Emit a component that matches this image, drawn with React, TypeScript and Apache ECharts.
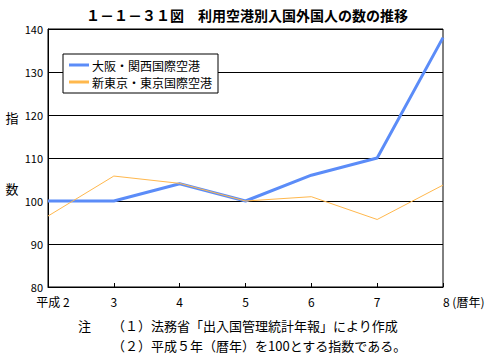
import React, { useEffect, useRef } from "react";
import * as echarts from "echarts";

const years = ["平成 2", "3", "4", "5", "6", "7", "8 (暦年)"];
const osakaKansai = [100, 100, 104, 100, 106, 110, 138];
const shinTokyo = [96.5, 105.8, 104.1, 100, 101, 95.7, 103.7];
const seriesNames = ["大阪・関西国際空港", "新東京・東京国際空港"];
const yTicks = { min: 80, max: 140, interval: 10 };
const titleText = "１－１－３１図　利用空港別入国外国人の数の推移";
const noteMark = "注";
const note1 = "（１）法務省「出入国管理統計年報」により作成";
const note2 = "（２）平成５年（暦年）を100とする指数である。";

const FONT = '"Noto Sans CJK JP", "Noto Sans", sans-serif';

export default function App() {
  const ref = useRef<HTMLDivElement>(null);
  useEffect(() => {
    document.body.style.margin = "0";
    if (!ref.current) return;
    const chart = echarts.init(ref.current, undefined, { renderer: "svg" });
    const last = years.length - 1;
    chart.setOption({
      animation: false,
      backgroundColor: "#fff",
      textStyle: { fontFamily: FONT, color: "#000" },
      title: {
        text: titleText,
        left: "center",
        top: 8,
        padding: 0,
        textStyle: { fontFamily: FONT, fontSize: 14, fontWeight: "bold", color: "#000" },
      },
      legend: {
        orient: "vertical",
        left: 63,
        top: 54,
        padding: [5, 6, 5, 6],
        itemGap: 5,
        itemWidth: 20,
        itemHeight: 3,
        icon: "rect",
        backgroundColor: "#fff",
        borderColor: "#000",
        borderWidth: 1,
        textStyle: { fontFamily: FONT, fontSize: 12, lineHeight: 12, color: "#000", padding: [0, 0, 0, -2] },
        data: seriesNames,
      },
      grid: {
        left: 48,
        right: 51,
        top: 29,
        bottom: 68,
        show: true,
        borderColor: "#000",
        borderWidth: 1,
        backgroundColor: "transparent",
      },
      xAxis: {
        type: "category",
        boundaryGap: false,
        data: years.map((v, i) =>
          i === last ? { value: v, textStyle: { align: "left" } } : v
        ),
        axisLine: { lineStyle: { color: "#000", width: 1 } },
        axisTick: { inside: true, length: 4, lineStyle: { color: "#000" } },
        axisLabel: {
          interval: 0,
          hideOverlap: false,
          fontFamily: FONT,
          fontSize: 12,
          color: "#000",
          margin: 8,
          formatter: (v: string, i: number) => (i === 0 ? "{p|}" + v : v),
          rich: { p: { width: 10 } },
        },
        splitLine: { show: false },
      },
      yAxis: {
        type: "value",
        min: yTicks.min,
        max: yTicks.max,
        interval: yTicks.interval,
        axisLine: { show: true, lineStyle: { color: "#000" } },
        axisTick: { show: false },
        axisLabel: { fontFamily: FONT, fontSize: 11, color: "#000", margin: 5 },
        splitLine: { show: true, lineStyle: { color: "#000", width: 1 } },
      },
      series: [
        {
          name: seriesNames[0],
          type: "line",
          data: osakaKansai,
          symbol: "none",
          lineStyle: { color: "#5B8CF8", width: 3 },
          itemStyle: { color: "#5B8CF8" },
          z: 3,
        },
        {
          name: seriesNames[1],
          type: "line",
          data: shinTokyo,
          symbol: "none",
          lineStyle: { color: "#FFB84D", width: 1 },
          itemStyle: { color: "#FFB84D" },
          z: 4,
        },
      ],
      graphic: [
        { type: "text", x: 12, y: 117, style: { text: "指", font: `13px ${FONT}`, fill: "#000", align: "center", verticalAlign: "middle" } },
        { type: "text", x: 12, y: 188, style: { text: "数", font: `13px ${FONT}`, fill: "#000", align: "center", verticalAlign: "middle" } },
        { type: "text", x: 78, y: 325, style: { text: noteMark, font: `13px ${FONT}`, fill: "#000", align: "left", verticalAlign: "middle" } },
        { type: "text", x: 112, y: 325, style: { text: note1, font: `13px ${FONT}`, fill: "#000", align: "left", verticalAlign: "middle" } },
        { type: "text", x: 112, y: 345, style: { text: note2, font: `13px ${FONT}`, fill: "#000", align: "left", verticalAlign: "middle" } },
      ],
    });
    return () => chart.dispose();
  }, []);
  return <div ref={ref} style={{ width: 494, height: 355 }} />;
}
